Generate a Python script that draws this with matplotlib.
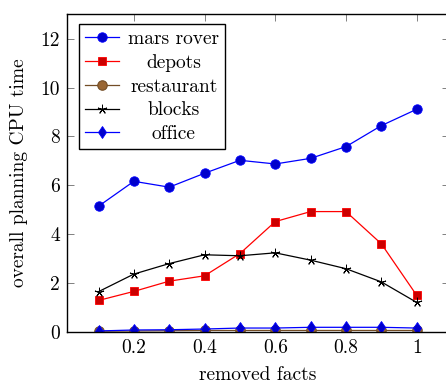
import matplotlib
matplotlib.use("Agg")
import matplotlib.pyplot as plt

plt.rcParams['font.family'] = ['cmr10', 'DejaVu Serif']
plt.rcParams['axes.formatter.use_mathtext'] = True
plt.rcParams['mathtext.fontset'] = 'cm'

removed = [0.1, 0.2, 0.3, 0.4, 0.5, 0.6, 0.7, 0.8, 0.9, 1.0]
mars_rover = [5.14, 6.16, 5.92, 6.49, 7.02, 6.87, 7.10, 7.58, 8.44, 9.11]
depots = [1.28, 1.65, 2.07, 2.29, 3.20, 4.51, 4.92, 4.92, 3.60, 1.49]
restaurant = [0.02, 0.03, 0.04, 0.05, 0.05, 0.05, 0.05, 0.05, 0.05, 0.05]
blocks = [1.64, 2.36, 2.79, 3.15, 3.11, 3.23, 2.93, 2.58, 2.04, 1.20]
office = [0.03, 0.07, 0.08, 0.11, 0.15, 0.15, 0.18, 0.18, 0.18, 0.15]

xticks = [0.2, 0.4, 0.6, 0.8, 1.0]
xtick_labels = ["0.2", "0.4", "0.6", "0.8", "1"]
yticks = [0, 2, 4, 6, 8, 10, 12]
ytick_labels = ["0", "2", "4", "6", "8", "10", "12"]

FS = 14

fig = plt.figure(figsize=(4.46, 3.83), dpi=100)
ax = fig.add_axes([66.7 / 446, 1 - 331.7 / 383, (448.5 - 66.7) / 446, (331.7 - 14.3) / 383])

lw = 0.9
ax.plot(removed, mars_rover, color='#0000ff', lw=lw, marker='o', ms=6.8,
        mfc='#0000cc', mec='#0000ff', mew=0.6, label='mars rover')
ax.plot(removed, depots, color='#ff0000', lw=lw, marker='s', ms=6.0,
        mfc='#cc0000', mec='#ff0000', mew=0.6, label='depots')
ax.plot(removed, restaurant, color='#734d26', lw=lw, marker='o', ms=6.8,
        mfc='#996633', mec='#734d26', mew=0.8, label='restaurant')
ax.plot(removed, blocks, color='black', lw=lw, marker=(5, 2, 0), ms=6.8,
        mew=0.7, label='blocks')
ax.plot(removed, office, color='#0000ff', lw=lw, marker='d', ms=6.5,
        mfc='#0000cc', mec='#0000ff', mew=0.6, label='office')

ax.set_xlim(0.01, 1.09)
ax.set_ylim(0, 13)
ax.set_xticks(xticks)
ax.set_xticklabels(xtick_labels, fontsize=FS)
ax.set_yticks(yticks)
ax.set_yticklabels(ytick_labels, fontsize=FS)
ax.tick_params(direction='in', length=5.2, width=0.7, color='#808080',
               top=True, right=True, pad=5)
for sp in ax.spines.values():
    sp.set_linewidth(1.0)
    sp.set_color('black')

ax.set_xlabel('removed facts', fontsize=FS, labelpad=7)
ax.set_ylabel('overall planning CPU time', fontsize=FS, labelpad=9)

leg = ax.legend(loc='upper left', bbox_to_anchor=(12 / 381.8, 1 - 10 / 317.4),
                fontsize=FS, frameon=True, fancybox=False, shadow=False,
                framealpha=1, edgecolor='black', handlelength=1.75,
                handletextpad=0.5, labelspacing=0.3, borderpad=0.3,
                borderaxespad=0.0)
leg.get_frame().set_linewidth(1.0)

# centre the legend labels within their column
fig.canvas.draw()
renderer = fig.canvas.get_renderer()
widths = [t.get_window_extent(renderer).width for t in leg.get_texts()]
wmax = max(widths)
for t, w in zip(leg.get_texts(), widths):
    t.set_x((wmax - w) / 2)

fig.savefig('out.png', dpi=100)
